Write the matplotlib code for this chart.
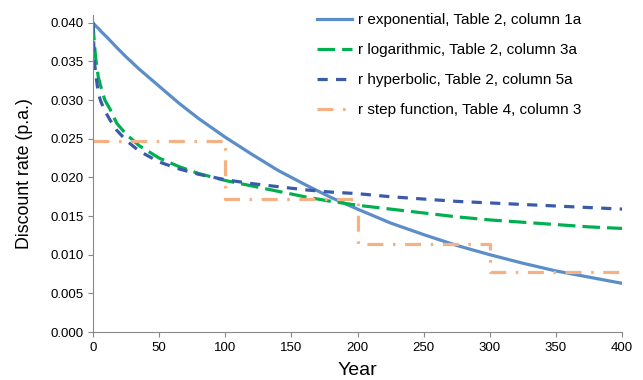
import matplotlib.pyplot as plt

plt.rcParams['font.family'] = ['Liberation Sans', 'DejaVu Sans']

# values
years = [0, 1, 2, 4, 6, 9, 13, 18, 25, 35, 50, 65, 80, 100, 120, 140, 160, 180, 200,
         225, 250, 275, 300, 325, 350, 375, 400]
r_exponential = [0.0400, 0.0398, 0.0396, 0.0393, 0.0389, 0.0384, 0.0377, 0.0368, 0.0356, 0.0340,
                 0.0318, 0.0296, 0.0276, 0.0252, 0.0230, 0.0209, 0.0191, 0.0174, 0.0159,
                 0.0141, 0.0126, 0.0112, 0.0100, 0.0089, 0.0079, 0.0071, 0.0063]
r_logarithmic = [0.0400, 0.0375, 0.0355, 0.0330, 0.0317, 0.0300, 0.0288, 0.0270, 0.0256, 0.0241,
                 0.0225, 0.0214, 0.0205, 0.0196, 0.0189, 0.0182, 0.0175, 0.0169, 0.0164,
                 0.0159, 0.0154, 0.0149, 0.0145, 0.0142, 0.0139, 0.0136, 0.0134]
r_hyperbolic = [0.0400, 0.0352, 0.0335, 0.0309, 0.0298, 0.0286, 0.0274, 0.0261, 0.0248, 0.0234,
                0.0220, 0.0211, 0.0204, 0.0197, 0.0192, 0.0188, 0.0184, 0.0181, 0.0179,
                0.0175, 0.0172, 0.0169, 0.0167, 0.0165, 0.0163, 0.0161, 0.0159]
step_years = [0, 100, 200, 300, 400]
step_rates = [0.0247, 0.0172, 0.0114, 0.0077]

labels = ["r exponential, Table 2, column 1a",
          "r logarithmic, Table 2, column 3a",
          "r hyperbolic, Table 2, column 5a",
          "r step function, Table 4, column 3"]

fig = plt.figure(figsize=(6.43, 3.8), dpi=100)
ax = fig.add_axes([0.1446, 0.1263, 0.8228, 0.834])

ax.plot(years, r_exponential, color='#5B8EC8', lw=2.3, label=labels[0])
ax.plot(years, r_logarithmic, color='#00B050', lw=2.3, dashes=(5.5, 2.2), label=labels[1])
ax.plot(years, r_hyperbolic, color='#3A5BA9', lw=2.3, dashes=(3.2, 2.6), label=labels[2])
ax.step(step_years, step_rates + [step_rates[-1]], where='post', color='#F4B183', lw=2.3,
        dashes=(5.0, 3.0, 0.8, 3.0), label=labels[3])

ax.set_xlim(0, 400)
ax.set_ylim(0, 0.041)
ax.set_xticks(range(0, 401, 50))
ax.set_yticks([i * 0.005 for i in range(9)])
ax.set_yticklabels([f"{i * 0.005:.3f}" for i in range(9)])
ax.tick_params(labelsize=9.5, length=3.5, color='#888888', width=0.8)
for s in ['top', 'right']:
    ax.spines[s].set_visible(False)
for s in ['left', 'bottom']:
    ax.spines[s].set_color('#888888')
    ax.spines[s].set_linewidth(0.8)

ax.set_xlabel("Year", fontsize=14, labelpad=6)
ax.set_ylabel("Discount rate (p.a.)", fontsize=12.8, labelpad=12)

fig.legend(loc='upper left', bbox_to_anchor=(317 / 643, 1 - 13 / 380), frameon=False,
           fontsize=11, handlelength=2.3, labelspacing=1.05, borderpad=0, borderaxespad=0,
           handletextpad=0.4)

fig.savefig("out.png", dpi=100)
